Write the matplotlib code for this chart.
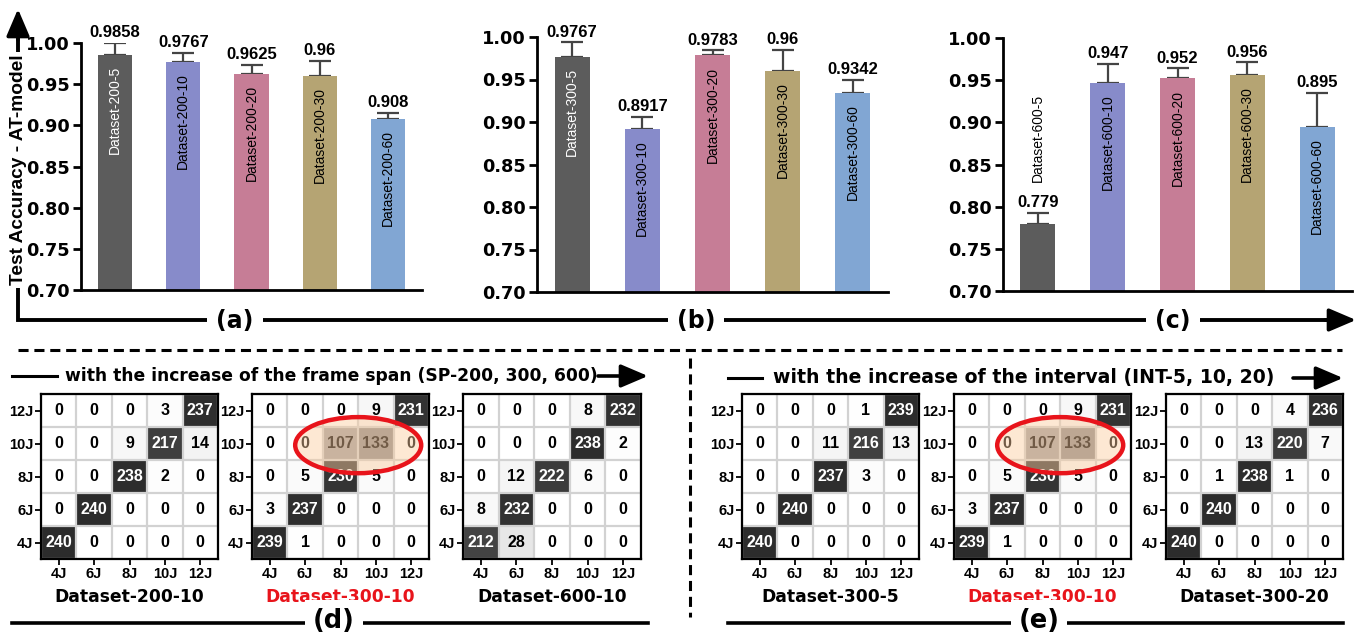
import matplotlib
matplotlib.use("Agg")
import matplotlib.pyplot as plt
import numpy as np
from matplotlib.patches import Ellipse
from matplotlib.colors import LinearSegmentedColormap

W, H = 1363, 641
DPI = 100

# ------------------------- data -------------------------
a_labels = ["Dataset-200-5", "Dataset-200-10", "Dataset-200-20", "Dataset-200-30", "Dataset-200-60"]
a_values = [0.9858, 0.9767, 0.9625, 0.96, 0.908]
a_errors = [0.014, 0.011, 0.011, 0.018, 0.007]

b_labels = ["Dataset-300-5", "Dataset-300-10", "Dataset-300-20", "Dataset-300-30", "Dataset-300-60"]
b_values = [0.9767, 0.8917, 0.9783, 0.96, 0.9342]
b_errors = [0.017, 0.014, 0.006, 0.025, 0.015]

c_labels = ["Dataset-600-5", "Dataset-600-10", "Dataset-600-20", "Dataset-600-30", "Dataset-600-60"]
c_values = [0.779, 0.947, 0.952, 0.956, 0.895]
c_errors = [0.014, 0.022, 0.012, 0.015, 0.040]

bar_colors = ["#5c5c5c", "#878bca", "#c67d96", "#b5a473", "#81a6d3"]
yticks = [0.70, 0.75, 0.80, 0.85, 0.90, 0.95, 1.00]

classes = ["4J", "6J", "8J", "10J", "12J"]
# rows listed from top (12J) to bottom (4J); columns 4J..12J
cm_200_10 = [[0, 0, 0, 3, 237],
             [0, 0, 9, 217, 14],
             [0, 0, 238, 2, 0],
             [0, 240, 0, 0, 0],
             [240, 0, 0, 0, 0]]
cm_300_10 = [[0, 0, 0, 9, 231],
             [0, 0, 107, 133, 0],
             [0, 5, 230, 5, 0],
             [3, 237, 0, 0, 0],
             [239, 1, 0, 0, 0]]
cm_600_10 = [[0, 0, 0, 8, 232],
             [0, 0, 0, 238, 2],
             [0, 12, 222, 6, 0],
             [8, 232, 0, 0, 0],
             [212, 28, 0, 0, 0]]
cm_300_5 = [[0, 0, 0, 1, 239],
            [0, 0, 11, 216, 13],
            [0, 0, 237, 3, 0],
            [0, 240, 0, 0, 0],
            [240, 0, 0, 0, 0]]
cm_300_20 = [[0, 0, 0, 4, 236],
             [0, 0, 13, 220, 7],
             [0, 1, 238, 1, 0],
             [0, 240, 0, 0, 0],
             [240, 0, 0, 0, 0]]

title_d = "with the increase of the frame span (SP-200, 300, 600)"
title_e = "with the increase of the interval (INT-5, 10, 20)"

# ------------------------- style -------------------------
plt.rcParams["font.family"] = ["DejaVu Sans"]
plt.rcParams["font.weight"] = "bold"
plt.rcParams["axes.labelweight"] = "bold"
ARIAL = "Liberation Sans"

fig = plt.figure(figsize=(W / DPI, H / DPI), dpi=DPI)


def px_axes(l, r, t, b, **kw):
    return fig.add_axes([l / W, 1 - b / H, (r - l) / W, (b - t) / H], **kw)


def bar_panel(ax, labels, values, errors):
    x = np.arange(len(values))
    ax.bar(x, values, width=0.5, color=bar_colors, zorder=2)
    ax.errorbar(x, values, yerr=[np.zeros(len(errors)), errors], fmt="none",
                ecolor="#444444", elinewidth=1.6, capsize=8, capthick=1.6, zorder=1)
    ax.set_xlim(-0.5, 4.5)
    ax.set_ylim(0.70, 1.00)
    ax.set_yticks(yticks)
    ax.set_yticklabels([f"{t:.2f}" for t in yticks])
    ax.set_xticks([])
    for s in ["top", "right"]:
        ax.spines[s].set_visible(False)
    for s in ["left", "bottom"]:
        ax.spines[s].set_linewidth(2)
    ax.tick_params(axis="y", length=6, width=2, labelsize=12.8, pad=2)
    for i, (lab, v, e) in enumerate(zip(labels, values, errors)):
        ax.annotate(str(v), (i, v + e), xytext=(0, 2), textcoords="offset points",
                    ha="center", va="bottom", fontsize=12, fontweight="bold",
                    family=ARIAL, annotation_clip=False)
        if v - 0.70 > 0.12:
            ax.annotate(lab, (i, v), xytext=(0, -8), textcoords="offset points",
                        rotation=90, ha="center", va="top", fontsize=10,
                        family=ARIAL, fontweight="normal",
                        color="white" if i == 0 else "black")
        else:
            ax.annotate(lab, (i, v + e), xytext=(0, 22), textcoords="offset points",
                        rotation=90, ha="center", va="bottom", fontsize=10,
                        family=ARIAL, fontweight="normal", color="black")


ax_a = px_axes(81, 422, 43, 290)
bar_panel(ax_a, a_labels, a_values, a_errors)
ax_b = px_axes(537, 888, 37, 292)
bar_panel(ax_b, b_labels, b_values, b_errors)
ax_c = px_axes(1003, 1352, 38, 291)
bar_panel(ax_c, c_labels, c_values, c_errors)

cmap = LinearSegmentedColormap.from_list("grey_cm", ["#ffffff", "#2c2c2c"])


def cm_panel(ax, mat, highlight=False):
    m = np.array(mat)
    ax.imshow(m, cmap=cmap, vmin=0, vmax=240, aspect="auto")
    for r in range(m.shape[0]):
        for c in range(m.shape[1]):
            v = m[r, c]
            ax.text(c, r, str(v), ha="center", va="center", fontsize=11.5,
                    family=ARIAL, fontweight="bold",
                    color="white" if v >= 150 else "black", zorder=3)
    ax.set_xticks(range(5))
    ax.set_xticklabels(classes, family=ARIAL, fontweight="bold")
    ax.set_yticks(range(5))
    ax.set_yticklabels(classes[::-1], family=ARIAL, fontweight="bold")
    ax.set_xticks(np.arange(-0.5, 5, 1), minor=True)
    ax.set_yticks(np.arange(-0.5, 5, 1), minor=True)
    ax.grid(which="minor", color="#d2d2d2", lw=1.6)
    ax.grid(which="major", visible=False)
    ax.tick_params(which="minor", length=0)
    ax.tick_params(which="major", length=4, width=1.3, labelsize=10.5, pad=1.5)
    for s in ax.spines.values():
        s.set_linewidth(1.6)
    if highlight:
        ell = Ellipse((2.5, 1.05), width=3.56, height=1.7,
                      facecolor=(0.99, 0.80, 0.62, 0.45), edgecolor="#e8141b",
                      lw=3.2, zorder=4)
        ax.add_patch(ell)


tops, bots = 394, 559
cm_specs = [
    (41, 218, cm_200_10, "Dataset-200-10", "black", False),
    (252, 429, cm_300_10, "Dataset-300-10", "#e8141b", True),
    (463, 641, cm_600_10, "Dataset-600-10", "black", False),
    (742, 919, cm_300_5, "Dataset-300-5", "black", False),
    (954, 1131, cm_300_10, "Dataset-300-10", "#e8141b", True),
    (1166, 1343, cm_300_20, "Dataset-300-20", "black", False),
]

# overlay for decorations (pixel coordinates)
ov = fig.add_axes([0, 0, 1, 1], zorder=-1)
ov.set_xlim(0, W)
ov.set_ylim(H, 0)
ov.axis("off")

for l, r, mat, name, col, hl in cm_specs:
    ax = px_axes(l, r, tops, bots)
    cm_panel(ax, mat, hl)
    ov.text((l + r) / 2, 597, name, ha="center", va="center", fontsize=12.3,
            fontweight="bold", color=col)

arrow_kw = dict(arrowstyle="-|>,head_length=0.75,head_width=0.32", color="black",
                lw=2.6, mutation_scale=22, shrinkA=0, shrinkB=0)

# L-shaped axis arrow for the top row
ov.plot([18, 18, 1335], [30, 320, 320], color="black", lw=2.8, solid_joinstyle="miter",
        solid_capstyle="butt")
ov.annotate("", xy=(18, 9), xytext=(18, 40), arrowprops=arrow_kw)
ov.annotate("", xy=(1356, 320), xytext=(1325, 320), arrowprops=arrow_kw)
ov.text(19, 170, "Test Accuracy - AT-model", rotation=90, ha="center", va="center",
        fontsize=13.8, family=ARIAL, fontweight="bold",
        bbox=dict(boxstyle="square,pad=0.12", fc="white", ec="none"))
for x, lab in [(235, "(a)"), (696, "(b)"), (1173, "(c)")]:
    ov.text(x, 321, lab, ha="center", va="center", fontsize=17, fontweight="bold",
            bbox=dict(boxstyle="square,pad=0.38", fc="white", ec="none"))

# dashed separators
dash = (0, (3.3, 1.9))
ov.plot([18, 1342], [350, 350], color="black", lw=2.2, ls=dash)
ov.plot([690, 690], [358, 617], color="black", lw=2.2, ls=dash)

# titles of the bottom groups
ov.plot([12, 57], [376, 376], color="black", lw=2.2)
ov.text(65, 376, title_d, ha="left", va="center", fontsize=12.3, fontweight="bold")
ov.annotate("", xy=(648, 376), xytext=(598, 376), arrowprops=arrow_kw)

ov.plot([728, 762], [378, 378], color="black", lw=2.2)
ov.text(773, 378, title_e, ha="left", va="center", fontsize=13.6, fontweight="bold")
ov.annotate("", xy=(1343, 378), xytext=(1293, 378), arrowprops=arrow_kw)

# bottom group lines with labels
ov.plot([12, 648], [623, 623], color="black", lw=2.6)
ov.plot([728, 1343], [623, 623], color="black", lw=2.6)
for x, lab in [(334, "(d)"), (1039, "(e)")]:
    ov.text(x, 621, lab, ha="center", va="center", fontsize=18.5, fontweight="bold",
            bbox=dict(boxstyle="square,pad=0.3", fc="white", ec="none"))

fig.savefig("out.png", dpi=DPI)
